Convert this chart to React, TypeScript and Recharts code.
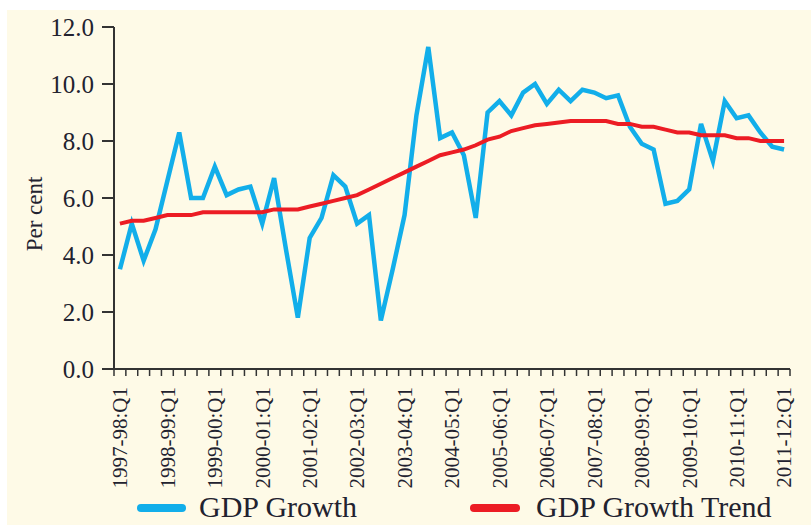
import React from 'react';
import { LineChart, Line, XAxis, YAxis, Legend } from 'recharts';

// fiscal years shown on the axis, quarters run Q1..Q4 inside each
const fiscalYears = [
    '1997-98', '1998-99', '1999-00', '2000-01', '2001-02', '2002-03', '2003-04', '2004-05',
    '2005-06', '2006-07', '2007-08', '2008-09', '2009-10', '2010-11', '2011-12'
];
const quarterNames = ['Q1', 'Q2', 'Q3', 'Q4'];

const gdpGrowth = [
    3.5, 5.1, 3.8, 4.9, 6.6, 8.3, 6.0, 6.0, 7.1, 6.1,
    6.3, 6.4, 5.1, 6.7, 4.2, 1.8, 4.6, 5.3, 6.8, 6.4,
    5.1, 5.4, 1.7, 3.5, 5.4, 8.9, 11.3, 8.1, 8.3, 7.5,
    5.3, 9.0, 9.4, 8.9, 9.7, 10.0, 9.3, 9.8, 9.4, 9.8,
    9.7, 9.5, 9.6, 8.5, 7.9, 7.7, 5.8, 5.9, 6.3, 8.6,
    7.3, 9.4, 8.8, 8.9, 8.3, 7.8, 7.7
];

const gdpTrend = [
    5.1, 5.2, 5.2, 5.3, 5.4, 5.4, 5.4, 5.5, 5.5, 5.5,
    5.5, 5.5, 5.5, 5.6, 5.6, 5.6, 5.7, 5.8, 5.9, 6.0,
    6.1, 6.3, 6.5, 6.7, 6.9, 7.1, 7.3, 7.5, 7.6, 7.7,
    7.85, 8.05, 8.15, 8.35, 8.45, 8.55, 8.6, 8.65, 8.7, 8.7,
    8.7, 8.7, 8.6, 8.6, 8.5, 8.5, 8.4, 8.3, 8.3, 8.2,
    8.2, 8.2, 8.1, 8.1, 8.0, 8.0, 8.0
];

const yTicks = [0, 2, 4, 6, 8, 10, 12];

const quarterLabels: string[] = [];
fiscalYears.forEach((fy) => quarterNames.forEach((q) => quarterLabels.push(`${fy}:${q}`)));

const data = gdpGrowth.map((g, i) => ({
    i,
    name: quarterLabels[i],
    growth: g,
    trend: gdpTrend[i]
}));

// boundaries between quarters get a tick mark, every 4th quarter gets a label
const xTicks: number[] = [];
for (let k = 0; k <= data.length; k++) xTicks.push(k - 0.5);
for (let k = 0; k < data.length; k += 4) xTicks.push(k);

const BLUE = '#12aeea';
const RED = '#ec1c24';
const INK = '#22222f';
const AXIS = '#333333';
const FONT = "'Liberation Serif', 'Times New Roman', serif";

const QuarterTick = (props: any) => {
    const { x, y, payload } = props;
    const v = payload.value;
    if (!Number.isInteger(v)) {
        return <line x1={x} x2={x} y1={y} y2={y + 7} stroke={AXIS} strokeWidth={1.5} />;
    }
    if (v % 4 !== 0) return null;
    const ty = y + 18;
    return (
        <text
            x={x}
            y={ty}
            dy="0.35em"
            textAnchor="end"
            transform={`rotate(-90 ${x} ${ty})`}
            fill={INK}
            fontSize={21}
            fontFamily={FONT}
        >
            {quarterLabels[v]}
        </text>
    );
};

const PerCentLabel = (props: any) => {
    const { viewBox } = props;
    const cx = viewBox.x + 34;
    const cy = viewBox.y + viewBox.height / 2 + 16;
    return (
        <text
            x={cx}
            y={cy}
            dy="0.35em"
            textAnchor="middle"
            transform={`rotate(-90 ${cx} ${cy})`}
            fill={INK}
            fontSize={23}
            fontFamily={FONT}
        >
            Per cent
        </text>
    );
};

const renderLegend = () => (
    <svg width={811} height={36} style={{ display: 'block', overflow: 'visible' }}>
        <line x1={141} x2={182} y1={19} y2={19} stroke={BLUE} strokeWidth={8} strokeLinecap="round" />
        <text x={199} y={28} fill={INK} fontSize={30} fontFamily={FONT}>GDP Growth</text>
        <line x1={474} x2={516} y1={19} y2={19} stroke={RED} strokeWidth={8} strokeLinecap="round" />
        <text x={536} y={28} fill={INK} fontSize={30} fontFamily={FONT}>GDP Growth Trend</text>
    </svg>
);

const App: React.FC = () => {
    return (
        <div style={{ position: 'absolute', left: 0, top: 0, width: 811, height: 525, background: '#ffffff' }}>
            <div style={{ position: 'absolute', left: 7, top: 10, width: 804, height: 515, background: '#fefae7' }} />
            <div style={{ position: 'absolute', left: 0, top: 0 }}>
                <LineChart
                    width={811}
                    height={525}
                    data={data}
                    margin={{ top: 27, right: 21, left: 0, bottom: 0 }}
                >
                    <XAxis
                        dataKey="i"
                        type="number"
                        domain={[-0.5, data.length - 0.5]}
                        ticks={xTicks}
                        interval={0}
                        tickLine={false}
                        tickSize={0}
                        tickMargin={0}
                        tick={<QuarterTick />}
                        height={120}
                        axisLine={{ stroke: AXIS, strokeWidth: 2 }}
                    />
                    <YAxis
                        type="number"
                        domain={[0, 12]}
                        ticks={yTicks}
                        interval={0}
                        width={114}
                        tickSize={12}
                        tickMargin={8}
                        tickFormatter={(v: number) => v.toFixed(1)}
                        tick={{ fill: INK, fontSize: 25, fontFamily: FONT }}
                        tickLine={{ stroke: AXIS, strokeWidth: 2 }}
                        axisLine={{ stroke: AXIS, strokeWidth: 2 }}
                        label={{ content: <PerCentLabel /> }}
                    />
                    <Legend verticalAlign="bottom" height={36} content={renderLegend} />
                    <Line
                        type="linear"
                        dataKey="growth"
                        stroke={BLUE}
                        strokeWidth={4.5}
                        dot={false}
                        activeDot={false}
                        isAnimationActive={false}
                    />
                    <Line
                        type="linear"
                        dataKey="trend"
                        stroke={RED}
                        strokeWidth={4}
                        dot={false}
                        activeDot={false}
                        isAnimationActive={false}
                    />
                </LineChart>
            </div>
        </div>
    );
};

export default App;
